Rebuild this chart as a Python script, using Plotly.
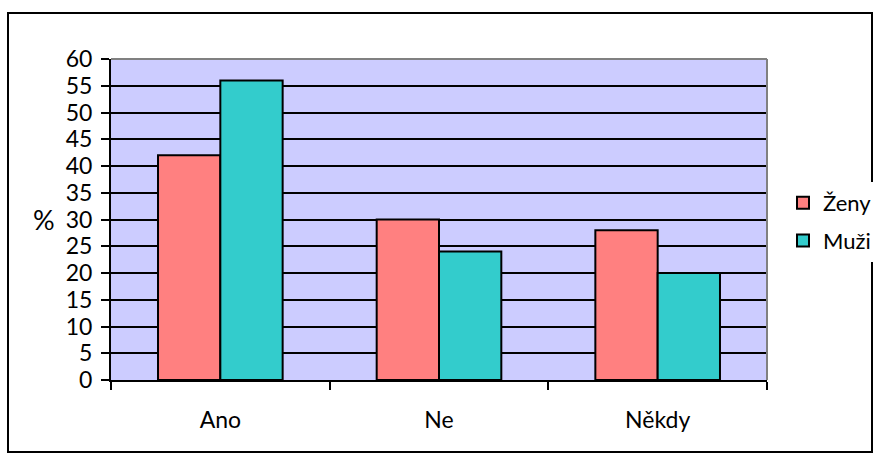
import plotly.graph_objects as go

categories = ["Ano", "Ne", "Někdy"]
zeny = [42, 30, 28]
muzi = [56, 24, 20]
y_ticks = list(range(0, 61, 5))

W, H = 879, 459
L, R, T, B = 111, 112, 59, 79
pw, ph = W - L - R, H - T - B

def px_x(x):
    return (x - L) / pw

def px_y(y):
    return (H - B - y) / ph

FONT = "Lato"

fig = go.Figure()
fig.add_trace(go.Bar(name="Ženy", x=categories, y=zeny, legendgroup="z",
                     marker=dict(color="#FF8080", line=dict(color="black", width=2))))
fig.add_trace(go.Bar(name="Muži", x=categories, y=muzi, legendgroup="m",
                     marker=dict(color="#33CCCC", line=dict(color="black", width=2))))

fig.update_layout(
    width=W, height=H,
    margin=dict(l=L, r=R, t=T, b=B, autoexpand=False),
    paper_bgcolor="white",
    plot_bgcolor="#CCCCFF",
    barmode="group",
    bargap=0.43,
    bargroupgap=0,
    font=dict(family=FONT, size=22, color="black"),
    legend=dict(x=px_x(783), y=px_y(182), xanchor="left", yanchor="top",
                font=dict(size=22), tracegroupgap=6),
    xaxis=dict(showline=True, linecolor="black", linewidth=2,
               ticks="outside", tickson="boundaries", ticklen=8, tickwidth=2,
               tickcolor="black", tickfont=dict(size=23), showgrid=False,
               ticklabelstandoff=18),
    yaxis=dict(range=[0, 60], tickvals=y_ticks, showline=True, linecolor="black",
               linewidth=2, ticks="outside", ticklen=8, tickwidth=2, tickcolor="black",
               showgrid=True, gridcolor="black", gridwidth=2, zeroline=False,
               tickfont=dict(size=23), ticklabelstandoff=4),
    shapes=[
        # outer frame around the whole chart
        dict(type="rect", xref="paper", yref="paper",
             x0=px_x(8), x1=px_x(872), y0=px_y(452), y1=px_y(13),
             line=dict(color="black", width=2), layer="below"),
        # grey top and right border of the plot area
        dict(type="line", xref="paper", yref="paper", x0=0, x1=1, y0=1, y1=1,
             line=dict(color="#808080", width=2), layer="above"),
        dict(type="line", xref="paper", yref="paper", x0=1, x1=1, y0=0, y1=1,
             line=dict(color="#808080", width=2), layer="above"),
    ],
    annotations=[
        dict(text="%", xref="paper", yref="paper", x=px_x(44), y=px_y(220),
             showarrow=False, font=dict(size=27), xanchor="center", yanchor="middle"),
    ],
)

fig.write_html("out.html")
